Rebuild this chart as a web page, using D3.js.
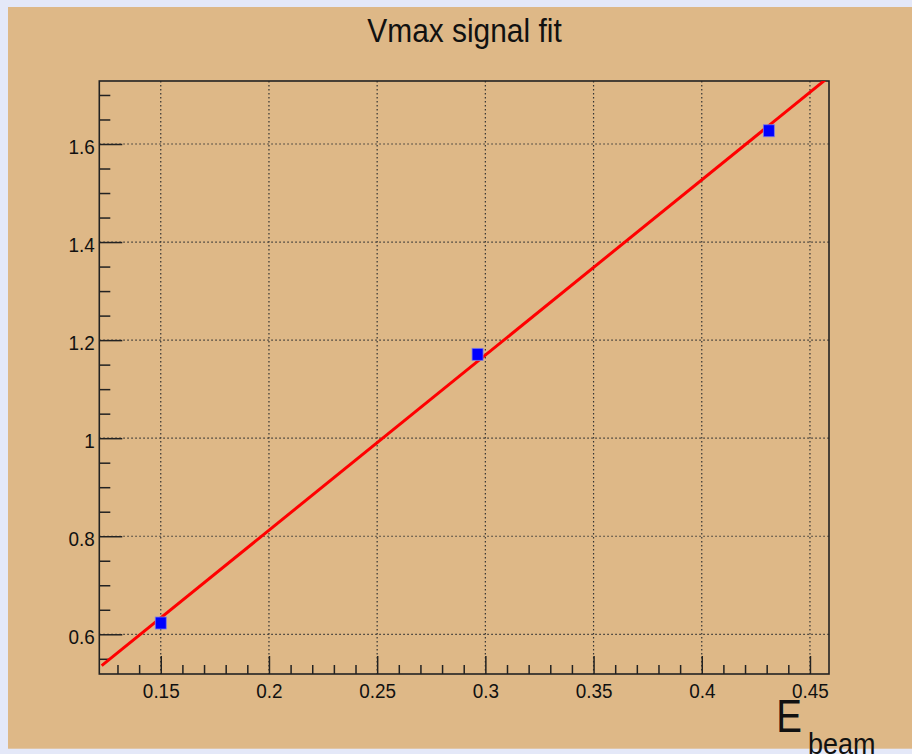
<!DOCTYPE html>
<html>
<head>
<meta charset="utf-8">
<script src="https://cdn.jsdelivr.net/npm/d3@7"></script>
<style>
  body { margin: 0; background: #e4e8f8; }
  svg { display: block; }
</style>
</head>
<body>
<div id="chart"></div>
<script>
// data
const pointX = [0.15, 0.2964, 0.431];
const pointY = [0.623, 1.171, 1.627];
// fit line ends (red)
const fitX = [0.1227, 0.4588];
const fitY = [0.536, 1.737];
const xTicks = [0.15, 0.2, 0.25, 0.3, 0.35, 0.4, 0.45];
const yTicks = [0.6, 0.8, 1.0, 1.2, 1.4, 1.6];

function drawChart() {
    const W = 912, H = 754;
    const frame = { left: 99.3, right: 829, top: 81, bottom: 674 };
    const font = "'Liberation Sans', Arial, Helvetica, sans-serif";

    const svg = d3.select("#chart")
        .append("svg")
        .attr("width", W)
        .attr("height", H);

    // background
    svg.append("rect")
        .attr("width", W).attr("height", H)
        .attr("fill", "#e4e8f8");
    svg.append("rect")
        .attr("x", 8).attr("y", 7)
        .attr("width", W - 8).attr("height", 748.7 - 7)
        .attr("fill", "#deb887");

    const x = d3.scaleLinear()
        .domain([0.1216, 0.4588])
        .range([frame.left, frame.right]);

    const y = d3.scaleLinear()
        .domain([0.519, 1.7285])
        .range([frame.bottom, frame.top]);

    // grid (dotted)
    const grid = svg.append("g")
        .attr("stroke", "#333")
        .attr("stroke-width", 1.2)
        .attr("stroke-dasharray", "1.5,2.5");
    grid.selectAll(".vgrid")
        .data(xTicks)
        .enter()
        .append("line")
        .attr("x1", d => x(d)).attr("x2", d => x(d))
        .attr("y1", frame.top).attr("y2", frame.bottom);
    grid.selectAll(".hgrid")
        .data(yTicks)
        .enter()
        .append("line")
        .attr("x1", frame.left).attr("x2", frame.right)
        .attr("y1", d => y(d)).attr("y2", d => y(d));

    // minor ticks
    const xMinor = d3.range(0.13, 0.459, 0.01).filter(v => Math.abs(Math.round(v * 20) - v * 20) > 1e-6);
    const yMinor = d3.range(0.55, 1.72, 0.05).filter(v => Math.abs(Math.round(v * 5) - v * 5) > 1e-6);

    svg.append("g")
        .attr("transform", `translate(0,${frame.bottom})`)
        .call(d3.axisBottom(x).tickValues(xMinor).tickSize(-9).tickFormat(""))
        .call(g => g.select(".domain").remove())
        .selectAll("line").attr("stroke", "#222").attr("stroke-width", 1.5);

    svg.append("g")
        .attr("transform", `translate(${frame.left},0)`)
        .call(d3.axisLeft(y).tickValues(yMinor).tickSize(-11).tickFormat(""))
        .call(g => g.select(".domain").remove())
        .selectAll("line").attr("stroke", "#222").attr("stroke-width", 1.5);

    // major ticks + labels
    const xAxis = svg.append("g")
        .attr("transform", `translate(0,${frame.bottom})`)
        .call(d3.axisBottom(x).tickValues(xTicks).tickSize(-18).tickPadding(9)
            .tickFormat(d => d3.format("")(+d.toFixed(2))));
    xAxis.select(".domain").remove();
    xAxis.selectAll("line").attr("stroke", "#222").attr("stroke-width", 1.5);
    xAxis.selectAll("text")
        .attr("fill", "#111")
        .style("font-family", font)
        .style("font-size", "21px")
        .attr("transform", "scale(0.9,1)");

    const yAxis = svg.append("g")
        .attr("transform", `translate(${frame.left},0)`)
        .call(d3.axisLeft(y).tickValues(yTicks).tickSize(-23).tickPadding(5)
            .tickFormat(d => d3.format("")(+d.toFixed(1))));
    yAxis.select(".domain").remove();
    yAxis.selectAll("line").attr("stroke", "#222").attr("stroke-width", 1.5);
    yAxis.selectAll("text")
        .attr("fill", "#111")
        .attr("dy", "0.44em")
        .style("font-family", font)
        .style("font-size", "21px")
        .attr("transform", "scale(0.9,1)");

    // frame
    svg.append("rect")
        .attr("x", frame.left).attr("y", frame.top)
        .attr("width", frame.right - frame.left)
        .attr("height", frame.bottom - frame.top)
        .attr("fill", "none")
        .attr("stroke", "#222")
        .attr("stroke-width", 1.6);

    // clip for fit line
    svg.append("clipPath")
        .attr("id", "plotclip")
        .append("rect")
        .attr("x", frame.left).attr("y", frame.top)
        .attr("width", frame.right - frame.left)
        .attr("height", frame.bottom - frame.top);

    const fitData = fitX.map((v, i) => ({ x: v, y: fitY[i] }));
    const line = d3.line()
        .x(d => x(d.x))
        .y(d => y(d.y));

    svg.append("path")
        .datum(fitData)
        .attr("clip-path", "url(#plotclip)")
        .attr("fill", "none")
        .attr("stroke", "#ff0000")
        .attr("stroke-width", 3)
        .attr("d", line);

    // data points (blue squares)
    const points = pointX.map((v, i) => ({ x: v, y: pointY[i] }));
    svg.selectAll(".pt")
        .data(points)
        .enter()
        .append("rect")
        .attr("class", "pt")
        .attr("x", d => x(d.x) - 5.5)
        .attr("y", d => y(d.y) - 6)
        .attr("width", 11)
        .attr("height", 12)
        .attr("fill", "#0000ff")
        .attr("stroke", "#7a7ae8")
        .attr("stroke-width", 0.8);

    // title
    svg.append("text")
        .attr("transform", "translate(464.5,41.7) scale(0.92,1)")
        .attr("text-anchor", "middle")
        .style("font-family", font)
        .style("font-size", "32.5px")
        .attr("fill", "#111")
        .text("Vmax signal fit");

    // x axis label E_beam
    svg.append("text")
        .attr("transform", "translate(776.3,731.7) scale(0.82,1)")
        .style("font-family", font)
        .style("font-size", "47px")
        .attr("fill", "#111")
        .text("E");
    svg.append("text")
        .attr("transform", "translate(808,754) scale(0.9,1)")
        .style("font-family", font)
        .style("font-size", "30px")
        .attr("fill", "#111")
        .text("beam");
}
drawChart();
</script>
</body>
</html>
